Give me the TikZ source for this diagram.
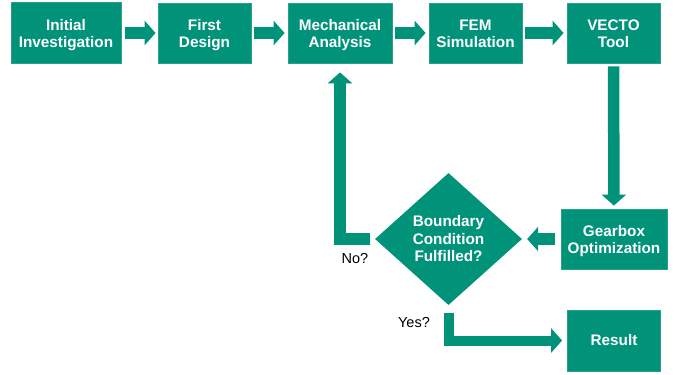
\documentclass[tikz,border=0pt]{standalone}
\usepackage{fontspec}
\setmainfont{Liberation Sans}
\usetikzlibrary{shapes.geometric,arrows.meta}
\definecolor{procgreen}{RGB}{0,147,122}
\definecolor{procedge}{RGB}{38,162,140}
% centred block of lines, moved down a little while keeping its size
\newcommand{\steplines}[2][-2.5pt]{\raisebox{#1}[\height][\depth]{\begin{tabular}{@{}c@{}}#2\end{tabular}}}
\tikzset{
  stepbox/.style={rectangle, fill=procgreen, draw=procedge, line width=0.8pt,
    text=white, inner sep=0pt,
    font=\fontsize{15.3}{17.5}\selectfont\bfseries},
  decision/.style={diamond, fill=procgreen, text=white, inner sep=0pt,
    font=\fontsize{15.3}{17.5}\selectfont\bfseries},
  flow/.style={draw=procgreen, line width=11.5pt, line join=miter,
    -{Triangle[width=24pt,length=11pt]}},
  answer/.style={text=black, font=\fontsize{14.5}{17}\selectfont}
}
\begin{document}
\begin{tikzpicture}[x=1pt,y=-1pt]
  \useasboundingbox (0,0) rectangle (678,375);

  % top row of process steps
  \node[stepbox, minimum width=110pt, minimum height=61pt] (init)  at (66,33)    {\steplines{Initial\\Investigation}};
  \node[stepbox, minimum width=93pt,  minimum height=60pt] (first) at (204.5,33) {\steplines{First\\Design}};
  \node[stepbox, minimum width=104pt, minimum height=60pt] (mech)  at (340,33)   {\steplines{Mechanical\\Analysis}};
  \node[stepbox, minimum width=93pt,  minimum height=60pt] (fem)   at (475.5,33) {\steplines{FEM\\Simulation}};
  \node[stepbox, minimum width=93pt,  minimum height=60pt] (vecto) at (613.5,33) {\steplines{VECTO\\Tool}};

  % lower part: optimisation, decision, result
  \node[stepbox, minimum width=106pt, minimum height=60pt] (gear)   at (614,239)   {\steplines{Gearbox\\Optimization}};
  \node[decision, minimum width=147pt, minimum height=132pt] (check) at (448.5,239) {\steplines[-1.5pt]{Boundary\\Condition\\Fulfilled?}};
  \node[stepbox, minimum width=93pt,  minimum height=61pt] (result) at (614,340.5) {\steplines[-1pt]{Result}};

  % connectors
  \draw[flow, shorten <=4pt, shorten >=2pt] (init)  -- (first);
  \draw[flow, shorten <=3pt, shorten >=3pt] (first) -- (mech);
  \draw[flow, shorten <=3pt, shorten >=3pt] (mech)  -- (fem);
  \draw[flow, shorten <=3pt, shorten >=3pt] (fem)   -- (vecto);
  \draw[flow, shorten <=3pt, shorten >=3pt] (vecto) -- (gear);
  \draw[flow, shorten <=6pt, shorten >=5pt] (gear)  -- (check);
  \draw[flow, shorten <=5pt, shorten >=9pt] (check.west) -- (check.west -| mech.south) -- (mech.south);
  \draw[flow, line width=10pt, shorten <=8pt, shorten >=5pt] (check.south) -- (check.south |- result.west) -- (result.west);

  % answer labels
  \node[answer] (no)  at (355,259) {No?};
  \node[answer] (yes) at (414,323) {Yes?};
\end{tikzpicture}
\end{document}
